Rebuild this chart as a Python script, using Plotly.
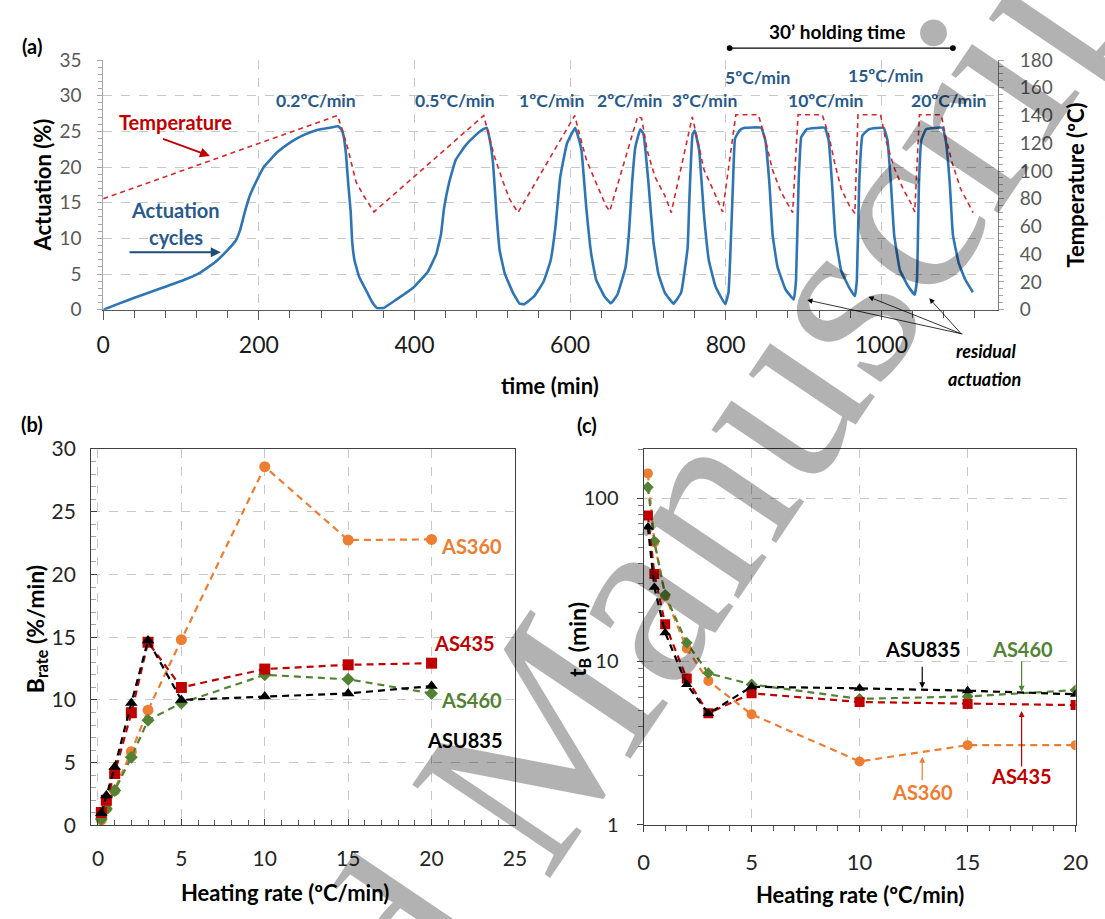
import math
import plotly.graph_objects as go

# ---------------- Panel (a): actuation cycles ----------------
time_act = [0, 20, 40, 60, 81, 102, 123, 144, 161, 170, 176, 182, 188.5, 195, 207, 224, 241, 258, 275, 291,
            302, 306, 309, 312, 315, 318, 320, 323, 329, 337.5, 346, 352, 360, 377, 398, 417, 428, 434, 438,
            444.5, 453, 465.5, 478, 488.5, 493, 497, 501, 505.5, 509.5, 516, 526.5, 535, 541, 554, 566, 575,
            581, 587.5, 596, 606.5, 610, 614.6, 620.9, 627.2, 633.5, 644, 652.4, 660.8, 671.3, 675.5, 679.7,
            683.9, 690.2, 694.4, 700.7, 707, 713.3, 721.7, 733, 742.7, 751.1, 753.2, 757.4, 760.3, 765.8,
            772.1, 778.4, 786.8, 799.4, 803.6, 809.1, 812, 818.3, 824.6, 845.6, 851, 856.1, 860.3, 866.6,
            877.1, 887.5, 890.4, 893.7, 897.1, 904.3, 927.4, 932.4, 936.6, 940.8, 948.4, 958.9, 966, 968.6,
            971.6, 975.7, 984.1, 1003, 1008, 1012.3, 1016.5, 1024, 1034.5, 1042.9, 1045.8, 1048.4, 1051.3,
            1057.6, 1078.6, 1082.8, 1087.9, 1092, 1099.6, 1108, 1117.7]
actuation = [0, 0.85, 1.68, 2.45, 3.27, 4.09, 5.09, 6.68, 8.5, 9.64, 11.2, 13.7, 16.0, 17.6, 20.1, 22.1, 23.5,
             24.5, 25.2, 25.5, 25.7, 25.3, 24.3, 21.8, 17.5, 13.8, 9.5, 6.9, 4.6, 2.8, 1.0, 0.23, 0.23, 1.45,
             3.05, 5.3, 7.8, 10.5, 14.2, 17.8, 21.0, 23.0, 24.4, 25.3, 25.5, 23.7, 20.5, 13.3, 8.3, 5.1, 2.4,
             0.86, 0.77, 1.9, 3.95, 6.9, 11.45, 18.7, 23.3, 25.5, 24.4, 22.4, 14.2, 7.8, 4.2, 1.9, 0.9, 2.1,
             6.0, 10.5, 17.8, 22.8, 25.3, 24.6, 17.8, 9.6, 5.1, 2.4, 0.86, 2.4, 8.7, 15.1, 24.6, 25.1, 22.4,
             13.3, 6.9, 3.3, 0.77, 2.4, 16.9, 24.0, 25.2, 25.5, 25.5, 23.7, 17.8, 10.5, 6.0, 2.8, 1.45, 4.2,
             17.8, 24.2, 25.3, 25.5, 23.7, 17.8, 10.5, 5.5, 3.05, 1.9, 4.2, 17.8, 24.4, 25.3, 25.5, 23.7, 17.8,
             10.5, 5.5, 3.3, 2.1, 4.2, 17.8, 23.7, 25.3, 25.5, 23.7, 17.8, 10.5, 6.5, 4.2, 2.45]

time_temp = [0, 301, 306, 314, 325, 335, 348, 489, 495, 503, 514, 522, 533, 606, 610, 621, 633, 646, 651,
             687, 692, 699, 709, 722, 730, 757, 764, 772, 785, 796, 813, 842, 849, 860, 871, 886, 893, 924,
             932, 940, 948.5, 959, 966, 970, 999, 1005, 1016, 1028, 1037, 1043, 1049, 1077, 1083, 1091,
             1102, 1118]
temperature = [80, 140, 132, 117, 92, 82, 70.5, 140, 127, 110, 92, 80, 70, 140, 131, 108, 92, 75, 71,
               139.5, 138, 115, 96, 82, 70, 139, 122, 101, 85, 70.5, 140.5, 140.5, 127, 101, 85, 70, 140.5,
               140.5, 127, 106, 87, 75, 69.5, 140.5, 140.5, 124, 103, 87, 78, 70.5, 140.5, 140.5, 124, 106,
               87, 70]

rate_labels = ["0.2ºC/min", "0.5ºC/min", "1ºC/min", "2ºC/min", "3ºC/min",
               "5ºC/min", "10ºC/min", "15ºC/min", "20ºC/min"]

# ---------------- Panels (b) and (c) ----------------
heating_rate = [0.2, 0.5, 1, 2, 3, 5, 10, 15, 20]
series_names = ["AS360", "AS460", "AS435", "ASU835"]

brate_AS360 = [0.44, 1.34, 2.77, 5.87, 9.18, 14.8, 28.6, 22.75, 22.8]
brate_AS460 = [0.5, 1.3, 2.77, 5.43, 8.38, 9.75, 12.0, 11.64, 10.52]
brate_AS435 = [1.03, 2.0, 4.14, 8.97, 14.6, 11.0, 12.46, 12.8, 12.93]
brate_ASU835 = [0.96, 2.38, 4.65, 9.75, 14.74, 10.0, 10.27, 10.52, 11.1]

tB_AS360 = [142, 53.7, 25.2, 12.0, 7.6, 4.74, 2.44, 3.07, 3.07]
tB_AS460 = [117, 54.5, 25.6, 13.0, 8.47, 7.23, 5.9, 6.1, 6.68]
tB_AS435 = [78.5, 34.4, 16.9, 7.85, 4.81, 6.38, 5.64, 5.49, 5.4]
tB_ASU835 = [66.6, 28.5, 15.0, 7.23, 4.79, 7.0, 6.84, 6.62, 6.29]

W, H = 1105, 919
FONT = "Lato"
ORANGE, GREEN, RED, BLACK = "#ED7D31", "#548235", "#C00000", "#000000"
BLUE_TXT = "#285A8C"
GRID = "#C8C8C8"


def px(x):
    return x / W


def py(y):
    return 1 - y / H


fig = go.Figure()

fig.add_trace(go.Scatter(x=time_act, y=actuation, mode="lines",
                         line=dict(color="#2E75B6", width=2.6, shape="spline", smoothing=0.3),
                         xaxis="x", yaxis="y"))
fig.add_trace(go.Scatter(x=time_temp, y=temperature, mode="lines",
                         line=dict(color="#D9262C", width=1.6, dash="5px,4px"), xaxis="x", yaxis="y2"))

styles = {
    "AS360": dict(color=ORANGE, symbol="circle", size=11),
    "AS460": dict(color=GREEN, symbol="diamond", size=10),
    "AS435": dict(color=RED, symbol="square", size=11),
    "ASU835": dict(color=BLACK, symbol="triangle-up", size=11),
}
brate = {"AS360": brate_AS360, "AS460": brate_AS460, "AS435": brate_AS435, "ASU835": brate_ASU835}
tB = {"AS360": tB_AS360, "AS460": tB_AS460, "AS435": tB_AS435, "ASU835": tB_ASU835}

for name in series_names:
    st = styles[name]
    fig.add_trace(go.Scatter(x=heating_rate, y=brate[name], mode="lines+markers",
                             line=dict(color=st["color"], width=2.2, dash="7px,5px"),
                             marker=dict(color=st["color"], symbol=st["symbol"], size=st["size"]),
                             xaxis="x2", yaxis="y3"))
for name in series_names:
    st = styles[name]
    fig.add_trace(go.Scatter(x=heating_rate, y=tB[name], mode="lines+markers",
                             line=dict(color=st["color"], width=2.2, dash="7px,5px"),
                             marker=dict(color=st["color"], symbol=st["symbol"], size=st["size"] - 1),
                             xaxis="x3", yaxis="y4"))

common_grid = dict(showgrid=True, gridcolor=GRID, griddash="dash", gridwidth=1, zeroline=False)

layout = dict(
    width=W, height=H, margin=dict(l=0, r=0, t=0, b=0),
    paper_bgcolor="white", plot_bgcolor="white", showlegend=False,
    font=dict(family=FONT, color="#000"),
    xaxis=dict(domain=[px(98), px(1009.3)], range=[0, 1150], anchor="y", tick0=0, dtick=200,
               ticks="outside", ticklen=9, tickcolor="#595959", showline=True, linecolor="#595959",
               minor=dict(dtick=40, ticks="outside", ticklen=7, tickcolor="#595959"),
               tickfont=dict(size=23, color="#1a1a1a"), ticklabelstandoff=6, **common_grid),
    yaxis=dict(domain=[py(304), py(47.3)], range=[0, 35], dtick=5, anchor="x",
               ticks="outside", ticklen=5, tickcolor="#A6A6A6", showline=True, linecolor="#A6A6A6",
               minor=dict(dtick=1, ticks="outside", ticklen=4, tickcolor="#A6A6A6"),
               tickfont=dict(size=19, color="#595959"), ticklabelstandoff=12, **common_grid),
    yaxis2=dict(overlaying="y", side="right", anchor="x", range=[0, 180], dtick=20,
                ticks="outside", ticklen=5, tickcolor="#A6A6A6", showline=True, linecolor="#808080",
                minor=dict(dtick=5, ticks="outside", ticklen=4, tickcolor="#A6A6A6"),
                tickfont=dict(size=19, color="#595959"), ticklabelstandoff=12, showgrid=False,
                zeroline=False),
    xaxis2=dict(domain=[px(85.7), px(517.3)], range=[-0.41, 25], anchor="y3", tick0=0, dtick=5,
                ticks="inside", ticklen=6, tickcolor="#404040", showline=True, mirror=True,
                linecolor="#404040", minor=dict(dtick=1, ticks="inside", ticklen=5, tickcolor="#595959"),
                tickfont=dict(size=21, color="#262626"), ticklabelstandoff=14, **common_grid),
    yaxis3=dict(domain=[py(834), py(447.3)], range=[0, 30], dtick=5, anchor="x2",
                ticks="inside", ticklen=6, tickcolor="#404040", showline=True, mirror=True,
                linecolor="#404040", minor=dict(dtick=1, ticks="inside", ticklen=5, tickcolor="#A6A6A6"),
                tickfont=dict(size=21, color="#262626"), ticklabelstandoff=10, **common_grid),
    xaxis3=dict(domain=[px(648.3), px(1088.3)], range=[0, 20], anchor="y4", tick0=0, dtick=5,
                ticks="outside", ticklen=6, tickcolor="#404040", showline=True, mirror=True,
                linecolor="#404040", minor=dict(dtick=1, ticks="outside", ticklen=5, tickcolor="#595959"),
                tickfont=dict(size=22, color="#262626"), ticklabelstandoff=12, **common_grid),
    yaxis4=dict(type="log", domain=[py(833.3), py(447.3)], range=[0, math.log10(200)], anchor="x3",
                tickvals=[1, 10, 100], ticktext=["1", "10", "100"],
                ticks="outside", ticklen=6, tickcolor="#404040", showline=True, mirror=True,
                linecolor="#404040",
                minor=dict(tickvals=[2, 3, 4, 5, 6, 7, 8, 9, 20, 30, 40, 50, 60, 70, 80, 90, 200],
                           ticks="outside", ticklen=5, tickcolor="#808080", showgrid=False),
                tickfont=dict(size=20, color="#262626"), ticklabelstandoff=14, **common_grid),
)
fig.update_layout(**layout)

ann = []


def text(x, y, s, size, color="#000", bold=True, italic=False, angle=0, xref="paper", yref="paper"):
    t = s
    if bold:
        t = "<b>" + t + "</b>"
    if italic:
        t = "<i>" + t + "</i>"
    ann.append(dict(x=x, y=y, xref=xref, yref=yref, text=t, showarrow=False, textangle=angle,
                    font=dict(size=size, color=color, family=FONT), xanchor="center", yanchor="middle"))


def arrow(hx, hy, ax, ay, color, width=2, head=2, size=1.0):
    ann.append(dict(x=px(hx), y=py(hy), xref="paper", yref="paper", text="", showarrow=True,
                    ax=ax - hx, ay=ay - hy, arrowhead=head, arrowsize=size, arrowwidth=width,
                    arrowcolor=color))


# panel labels
text(px(25.8), py(33.3), "(a)", 20)
text(px(25), py(421.7), "(b)", 20)
text(px(590.4), py(422), "(c)", 20)

# axis titles
text(px(36), py(176), "Actuation (%)", 22, angle=-90)
text(px(1088), py(176), "Temperature (ºC)", 22, angle=-90)
text(px(553), py(381.7), "time (min)", 22)
text(px(30), py(632), "B<sub>rate</sub> (%/min)", 23, angle=-90)
text(px(283), py(903.3), "Heating rate (ºC/min)", 22)
text(px(582), py(643), "t<sub>B</sub> (min)", 23, angle=-90)
text(px(868.7), py(905), "Heating rate (ºC/min)", 22)

# heating-rate labels in (a)
rate_pos = [(315, 89.3), (456, 89.3), (554.5, 89.3), (633.7, 89.3), (710.5, 89.3),
            (764.7, 65), (833.8, 89.3), (895, 63.3), (959, 89.3)]
for lab, (xx, yy) in zip(rate_labels, rate_pos):
    text(px(xx), py(yy), lab, 17.5, color=BLUE_TXT)

text(px(845), py(18.3), "30’ holding time", 19)
text(px(171.7), py(110.7), "Temperature", 20, color=RED)
arrow(206.7, 146, 158.3, 128.3, RED, width=2)
text(px(171.3), py(201.7), "Actuation", 20, color=BLUE_TXT)
text(px(171.7), py(229.3), "cycles", 20, color=BLUE_TXT)
arrow(217.7, 245, 125, 245, "#1F4E79", width=2)
text(px(996.7), py(346.7), "residual", 18, italic=True)
text(px(996), py(375), "actuation", 18, italic=True)
for hx, hy in [(815, 294), (877.3, 290.7), (939.3, 292.3)]:
    arrow(hx, hy, 971.7, 328.3, "#000", width=0.8, head=2, size=1.3)

# series labels (b)
text(22.4, 22.24, "AS360", 20, color=ORANGE, xref="x2", yref="y3")
text(22.0, 14.53, "AS435", 20, color=RED, xref="x2", yref="y3")
text(22.4, 10.0, "AS460", 20, color=GREEN, xref="x2", yref="y3")
text(22.0, 6.77, "ASU835", 20, color=BLACK, xref="x2", yref="y3")

# series labels (c)
text(12.92, math.log10(11.97), "ASU835", 20, color=BLACK, xref="x3", yref="y4")
text(17.53, math.log10(11.97), "AS460", 20, color=GREEN, xref="x3", yref="y4")
text(17.5, math.log10(2.0), "AS435", 20, color=RED, xref="x3", yref="y4")
text(12.92, math.log10(1.58), "AS360", 20, color=ORANGE, xref="x3", yref="y4")
for xx, yy, ay, col in [(12.9, 6.84, -23, BLACK), (17.5, 6.53, -32, GREEN),
                        (17.5, 4.97, 57, RED), (12.9, 2.61, 25, ORANGE)]:
    ann.append(dict(x=xx, y=math.log10(yy), xref="x3", yref="y4", text="", showarrow=True,
                    ax=0, ay=ay, arrowhead=2, arrowsize=1.0, arrowwidth=1.2, arrowcolor=col))

# watermark
ann.append(dict(x=px(515), y=py(788), xref="paper", yref="paper", text="Accepted Manuscript",
                showarrow=False, textangle=-56, xanchor="center", yanchor="middle",
                font=dict(size=254, color="rgba(0,0,0,0.3)", family="Liberation Serif")))

fig.update_layout(annotations=ann)

# holding-time bar
fig.add_shape(type="line", xref="paper", yref="paper", x0=px(736), y0=py(35), x1=px(963.3), y1=py(35),
              line=dict(color="#000", width=1.3))
for cx in (736, 963.3):
    fig.add_shape(type="circle", xref="paper", yref="paper", x0=px(cx - 3), x1=px(cx + 3),
                  y0=py(38), y1=py(32), fillcolor="#000", line=dict(color="#000", width=0))

fig.write_html("out.html", config={"displayModeBar": False},
               post_script="document.body.style.margin='0px';document.body.style.overflow='hidden';")
